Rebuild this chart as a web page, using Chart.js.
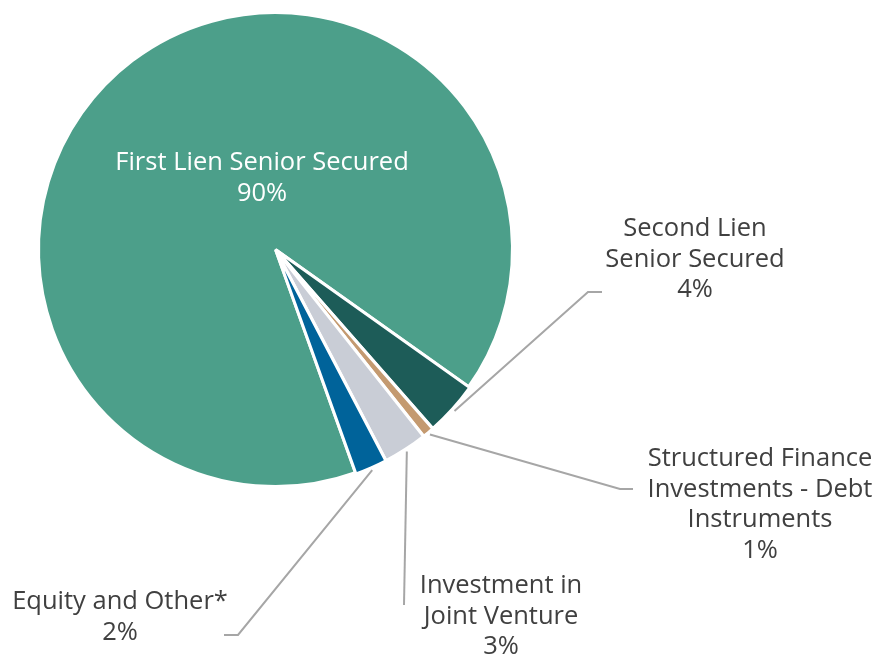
<!DOCTYPE html>
<html>
<head>
<meta charset="utf-8">
<script src="https://cdn.jsdelivr.net/npm/chart.js@4.4.0/dist/chart.umd.min.js"></script>
<style>
    html, body { margin: 0; padding: 0; background: #fff; }
</style>
</head>
<body>
<canvas id="chart" width="877" height="654"></canvas>
<script>
// Portefølje-fordeling efter investeringstype
const categories = [
    'First Lien Senior Secured',
    'Second Lien Senior Secured',
    'Structured Finance Investments - Debt Instruments',
    'Investment in Joint Venture',
    'Equity and Other*'
];
const shares = [90.3, 3.7, 0.8, 3.0, 2.2];
const shareLabels = ['90%', '4%', '1%', '3%', '2%'];

const colors = ['#4C9F8A', '#1D5C58', '#C49A70', '#C9CDD6', '#00639A'];

// Placering af tekst og hjælpelinjer (ikke data)
const labelLayout = [
    { lines: ['First Lien Senior Secured'], x: 262, y: 161, color: '#ffffff', leader: null },
    { lines: ['Second Lien', 'Senior Secured'], x: 695, y: 227, color: '#404040', leader: [[588, 292], [602, 292]] },
    { lines: ['Structured Finance', 'Investments - Debt', 'Instruments'], x: 760, y: 457, color: '#404040', leader: [[620, 489], [633, 489]] },
    { lines: ['Investment in', 'Joint Venture'], x: 501, y: 584, color: '#404040', leader: [[404, 605]] },
    { lines: ['Equity and Other*'], x: 120, y: 600, color: '#404040', leader: [[238, 635], [224, 635]] }
];

const FONT_SIZE = 25.5;
const LINE_GAP = 30.5;

const labelPlugin = {
    id: 'pieLabels',
    afterDatasetsDraw(chart) {
        const ctx = chart.ctx;
        const meta = chart.getDatasetMeta(0);
        ctx.save();
        meta.data.forEach((arc, i) => {
            const L = labelLayout[i];
            if (L.leader) {
                const p = arc.getProps(['x', 'y', 'startAngle', 'endAngle', 'outerRadius'], true);
                const mid = (p.startAngle + p.endAngle) / 2;
                const r = p.outerRadius + (arc.options.offset || 0) + 1;
                ctx.beginPath();
                ctx.moveTo(p.x + Math.cos(mid) * r, p.y + Math.sin(mid) * r);
                L.leader.forEach(pt => ctx.lineTo(pt[0], pt[1]));
                ctx.strokeStyle = '#A6A6A6';
                ctx.lineWidth = 2;
                ctx.stroke();
            }
            const lines = L.lines.concat([shareLabels[i]]);
            ctx.fillStyle = L.color;
            ctx.font = FONT_SIZE + 'px "Open Sans", sans-serif';
            ctx.textAlign = 'center';
            ctx.textBaseline = 'alphabetic';
            lines.forEach((txt, k) => {
                ctx.fillText(txt, L.x, L.y + k * LINE_GAP + FONT_SIZE * 0.36);
            });
        });
        ctx.restore();
    }
};

new Chart(document.getElementById('chart'), {
    type: 'pie',
    data: {
        labels: categories,
        datasets: [{
            data: shares,
            backgroundColor: colors,
            borderColor: '#ffffff',
            borderWidth: 3,
            offset: [0, 3, 3, 3, 3]
        }]
    },
    options: {
        responsive: false,
        animation: false,
        events: [],
        rotation: 160.3,
        radius: 237,
        layout: {
            padding: { left: 40, top: 14, right: 366, bottom: 169 }
        },
        plugins: {
            legend: { display: false },
            tooltip: { enabled: false }
        }
    },
    plugins: [labelPlugin]
});
</script>
</body>
</html>
